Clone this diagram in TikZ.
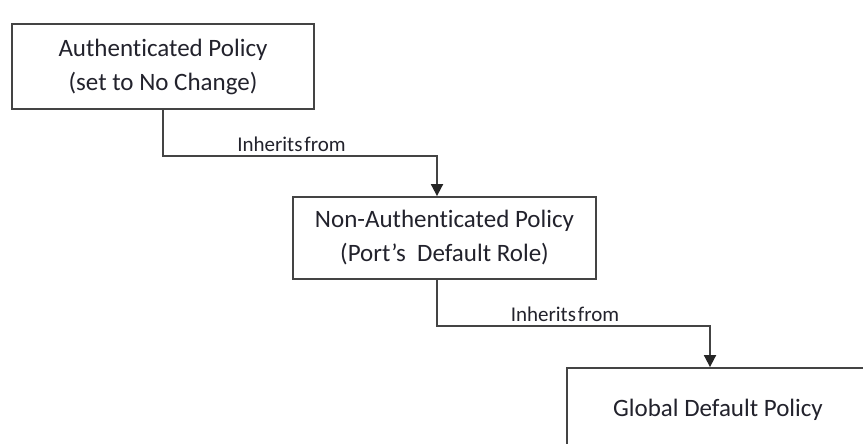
\documentclass[tikz,border=0pt]{standalone}
\usepackage{fontspec}
\setmainfont{Carlito}[Ligatures=NoCommon]
\usetikzlibrary{arrows.meta}
\definecolor{linec}{HTML}{444444}
\definecolor{textc}{HTML}{22222C}
\tikzset{
  pbox/.style={draw=linec, line width=1.8pt, fill=white, align=center, inner sep=0pt,
    text=textc, font=\fontsize{25}{34}\selectfont},
  conn/.style={draw=linec, line width=1.8pt, -{Triangle[width=12pt,length=12pt,color=black!85]}},
  lbl/.style={anchor=base, inner sep=0pt, text=textc, font=\fontsize{21}{24}\selectfont}
}
\begin{document}
\begin{tikzpicture}[x=1pt,y=-1pt]
\clip (0,0) rectangle (863,444);
\fill[white] (0,0) rectangle (863,444);
\node[pbox, minimum width=302pt, minimum height=85pt] (b1) at (163,66.5) {Authenticated Policy\\(set to No Change)};
\node[pbox, minimum width=303pt, minimum height=82pt] (b2) at (444.5,238) {Non-Authenticated Policy\\(Port’s\ \ Default Role)};
\node[pbox, minimum width=302pt, minimum height=84pt] (b3) at (718,410) {Global Default Policy};
\coordinate (k1) at (437,156);
\coordinate (k2) at (710,326);
\draw[conn] (b1.south) |- (k1) -- (k1 |- b2.north);
\draw[conn] (k1 |- b2.south) -- (k1 |- k2) -- (k2) -- (k2 |- b3.north);
\node[lbl] (l1) at (291.5,151) {Inherits\hspace{2pt}from};
\node[lbl] (l2) at (565,321) {Inherits\hspace{2pt}from};
\end{tikzpicture}
\end{document}
